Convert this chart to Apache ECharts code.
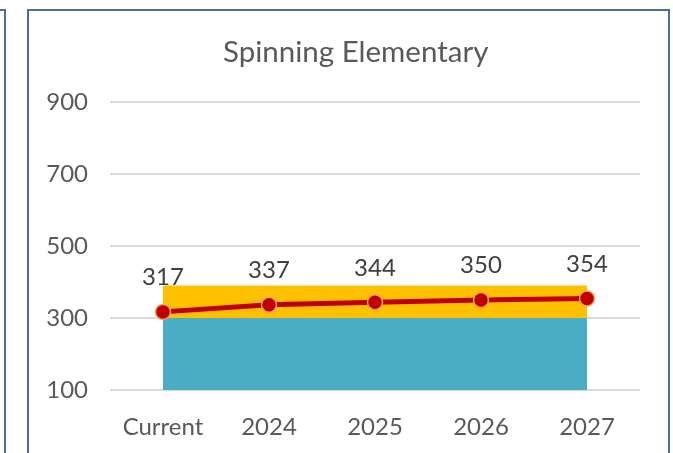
<!DOCTYPE html>
<html>
<head>
<meta charset="utf-8">
<script src="https://cdn.jsdelivr.net/npm/echarts@6/dist/echarts.min.js"></script>
<style>
  html, body { margin: 0; padding: 0; background: #fff; }
  #chart { width: 673px; height: 453px; }
</style>
</head>
<body>
<div id="chart"></div>
<script>
const categories = ['Current', '2024', '2025', '2026', '2027']
const capacity = [300, 300, 300, 300, 300]
const extra = [90, 90, 90, 90, 90]
const enrollment = [317, 337, 344, 350, 354]

const font = 'Lato, "Open Sans", sans-serif'
const chart = echarts.init(document.getElementById('chart'))

const option = {
  animation: false,
  textStyle: { fontFamily: font },
  graphic: [
    {
      type: 'rect',
      shape: { x: 28, y: 10, width: 641, height: 460 },
      style: { fill: 'none', stroke: '#4E6E9A', lineWidth: 2 }
    },
    {
      type: 'polyline',
      shape: { points: [[0, 10], [5, 10], [5, 460]] },
      style: { fill: 'none', stroke: '#4E6E9A', lineWidth: 2 }
    }
  ],
  title: {
    text: 'Spinning Elementary',
    left: 218,
    top: 32,
    textStyle: { fontFamily: font, fontSize: 29.5, fontWeight: 'normal', color: '#595959' }
  },
  grid: { left: 110, right: 33, top: 102, bottom: 63 },
  xAxis: {
    type: 'category',
    data: categories,
    boundaryGap: true,
    axisLine: { show: false },
    axisTick: { show: false },
    axisLabel: { fontFamily: font, fontSize: 24, color: '#595959', margin: 25 }
  },
  yAxis: {
    type: 'value',
    min: 100,
    max: 900,
    interval: 200,
    axisLine: { show: false },
    axisTick: { show: false },
    axisLabel: { fontFamily: font, fontSize: 24, color: '#595959', margin: 22 },
    splitLine: { lineStyle: { color: '#D9D9D9', width: 2 } }
  },
  series: [
    {
      name: 'Capacity',
      type: 'line',
      stack: 'area',
      data: capacity,
      symbol: 'none',
      lineStyle: { width: 0 },
      areaStyle: { color: '#4BACC6', opacity: 1 }
    },
    {
      name: 'Extra',
      type: 'line',
      stack: 'area',
      data: extra,
      symbol: 'none',
      lineStyle: { width: 0 },
      areaStyle: { color: '#FFC000', opacity: 1 }
    },
    {
      name: 'Enrollment',
      type: 'line',
      data: enrollment,
      symbol: 'circle',
      symbolSize: 15,
      z: 5,
      lineStyle: { color: '#C00000', width: 5 },
      itemStyle: { color: '#C00000', borderColor: '#F4A460', borderWidth: 1.5 },
      label: {
        show: true,
        position: 'top',
        distance: 14,
        fontFamily: font,
        fontSize: 24,
        color: '#404040'
      }
    }
  ]
}

chart.setOption(option)
</script>
</body>
</html>
